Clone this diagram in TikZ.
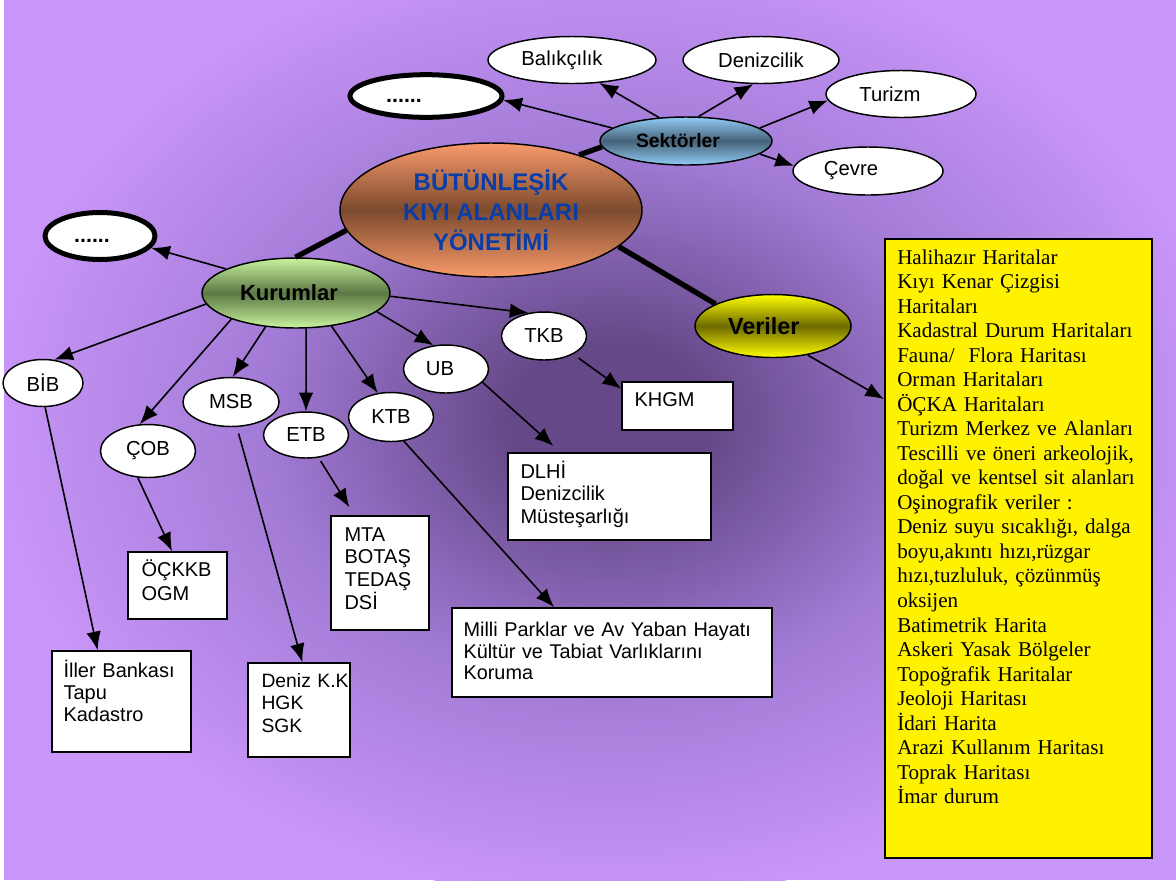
\documentclass[tikz,border=0pt]{standalone}
\usepackage{fontspec}
\setmainfont{Liberation Sans}
\newfontfamily\timesfont{Liberation Serif}
\usetikzlibrary{arrows.meta,shapes.geometric}
\definecolor{bglight}{HTML}{C996F9}
\definecolor{bgmid}{HTML}{A27BD6}
\definecolor{bgdark}{HTML}{654888}
\definecolor{orangelt}{HTML}{F99A6B}
\definecolor{orangedk}{HTML}{7C4A2E}
\definecolor{bluelt}{HTML}{92CCF6}
\definecolor{bluedk}{HTML}{466278}
\definecolor{greenlt}{HTML}{C8F49E}
\definecolor{greendk}{HTML}{5C7844}
\definecolor{yellt}{HTML}{FFFF00}
\definecolor{yeldk}{HTML}{6E6A00}
\definecolor{titleblue}{HTML}{0B3DA8}
\pgfdeclareradialshading{bgrad}{\pgfpoint{0bp}{0bp}}{color(0bp)=(bgdark); color(4bp)=(bgdark); color(14bp)=(bgmid); color(25bp)=(bglight); color(50bp)=(bglight)}
\tikzset{
  ell/.style={ellipse, draw=black, line width=1.1pt, fill=white, inner sep=0pt, font=\fontsize{15.2}{17}\selectfont},
  thickell/.style={ellipse, draw=black, line width=3.75pt, fill=white, inner sep=0pt, font=\bfseries\fontsize{16}{19}\selectfont, text height=10pt, text depth=0pt},
  gradell/.style 2 args={ellipse, draw=black, line width=1.1pt, inner sep=0pt, top color=#1, bottom color=#1, middle color=#2},
  wbox/.style={rectangle, draw=black, line width=1.1pt, fill=white, inner sep=0pt},
  btext/.style={anchor=base west, align=left, inner sep=0pt, text width=250pt, font=\fontsize{15}{17}\selectfont},
  arr/.style={-{Latex[length=14pt,width=11pt]}, line width=1.2pt},
  bond/.style={line width=4pt},
}
\begin{document}
\begin{tikzpicture}[x=0.75pt,y=-0.75pt]
\useasboundingbox (0,0) rectangle (1176,883);
\fill[white] (0,0) rectangle (1176,883);
\begin{scope}
  \clip (4,0) rectangle (1176,880);
  \fill[bglight] (4,0) rectangle (1176,880);
  \shade[shading=bgrad] (610,420) ellipse (465pt and 360pt);
\end{scope}

% central and group ellipses
\node[gradell={orangelt}{orangedk}, minimum width=226.5pt, minimum height=100.5pt, align=center,
      font=\bfseries\fontsize{18}{22.5}\selectfont, text=titleblue] (main) at (491,210)
      {BÜTÜNLEŞİK\\KIYI ALANLARI\\YÖNETİMİ};
\node[gradell={bluelt}{bluedk}, minimum width=129pt, minimum height=36pt,
      font=\bfseries\fontsize{14.5}{17}\selectfont] (sek) at (686,141) {Sektörler\kern12pt};
\node[gradell={greenlt}{greendk}, minimum width=141pt, minimum height=52.5pt,
      font=\bfseries\fontsize{16.5}{19}\selectfont] (kur) at (296,293) {Kurumlar\kern10.5pt};
\node[gradell={yellt}{yeldk}, minimum width=117pt, minimum height=47.25pt,
      font=\bfseries\fontsize{17.5}{20}\selectfont] (ver) at (773,326) {Veriler\kern14pt};

% sector ellipses
\node[ell, minimum width=126pt, minimum height=35.25pt] (bal) at (572,60) {Balıkçılık\kern15pt};
\node[ell, minimum width=117pt, minimum height=35.25pt] (den) at (761,60) {Denizcilik};
\node[ell, minimum width=112.5pt, minimum height=35.25pt] (tur) at (901,94) {Turizm\kern16.5pt};
\node[ell, minimum width=112.5pt, minimum height=36pt] (cev) at (868,171) {Çevre\kern25.5pt};
\node[thickell, minimum width=114pt, minimum height=32pt] (dotsA) at (426,96) {......\kern33pt};
\node[thickell, minimum width=82.5pt, minimum height=35.25pt] (dotsB) at (100,236) {......\kern12pt};

% institution ellipses
\node[ell, minimum width=60pt, minimum height=35.25pt] (bib) at (43,383) {BİB};
\node[ell, minimum width=71.25pt, minimum height=39.75pt] (cob) at (148,451) {ÇOB};
\node[ell, minimum width=72pt, minimum height=36.75pt] (msb) at (231,402) {MSB};
\node[ell, minimum width=63.75pt, minimum height=34.5pt] (etb) at (306,435) {ETB};
\node[ell, minimum width=63.75pt, minimum height=36.75pt] (ktb) at (391,417) {KTB};
\node[ell, minimum width=63.75pt, minimum height=36pt] (ub) at (446,369) {UB\kern9pt};
\node[ell, minimum width=63.75pt, minimum height=36pt] (tkb) at (544,336) {TKB};

% boxes
\node[wbox, minimum width=83.25pt, minimum height=36pt] (khgm) at (677.5,406) {};
\node[btext] at ([shift={(13,25)}]khgm.north west) {KHGM};
\node[wbox, minimum width=152.25pt, minimum height=65.25pt] (dlhi) at (609.5,496.5) {};
\node[btext] at ([shift={(13,26)}]dlhi.north west) {DLHİ\\Denizcilik\\Müsteşarlığı};
\node[wbox, minimum width=73.5pt, minimum height=85.5pt] (mta) at (380,573) {};
\node[btext] at ([shift={(14,26)}]mta.north west) {MTA\\BOTAŞ\\TEDAŞ\\DSİ};
\node[wbox, minimum width=74.25pt, minimum height=50.25pt] (ock) at (177.5,585.5) {};
\node[btext, font=\fontsize{15}{18.5}\selectfont] at ([shift={(14,25)}]ock.north west) {ÖÇKKB\\OGM};
\node[wbox, minimum width=104.25pt, minimum height=75.75pt] (iller) at (121.5,701.5) {};
\node[btext, font=\fontsize{15}{16.5}\selectfont] at ([shift={(12,27)}]iller.north west) {İller Bankası\\Tapu\\Kadastro};
\node[wbox, minimum width=76.5pt, minimum height=70.5pt] (deniz) at (299,710) {};
\node[btext, font=\fontsize{14.5}{17}\selectfont] at ([shift={(14,25)}]deniz.north west) {Deniz K.K\\HGK\\SGK};
\node[wbox, minimum width=240pt, minimum height=66.75pt] (milli) at (612,652.5) {};
\node[btext, font=\fontsize{14.9}{16.3}\selectfont] at ([shift={(12,29)}]milli.north west) {Milli Parklar ve Av Yaban Hayatı\\Kültür ve Tabiat Varlıklarını\\Koruma};
\node[wbox, fill=yellow, line width=1.5pt, minimum width=200.25pt, minimum height=464.25pt] (yel) at (1018.5,548.5) {};
\node[btext, font=\timesfont\fontsize{15.8}{18.4}\selectfont] at ([shift={(13,26)}]yel.north west)
  {Halihazır Haritalar\\Kıyı Kenar Çizgisi\\Haritaları\\Kadastral Durum Haritaları\\Fauna/\ \ Flora Haritası\\Orman Haritaları\\ÖÇKA Haritaları\\Turizm Merkez ve Alanları\\Tescilli ve öneri arkeolojik,\\doğal ve kentsel sit alanları\\Oşinografik veriler :\\Deniz suyu sıcaklığı, dalga\\boyu,akıntı hızı,rüzgar\\hızı,tuzluluk, çözünmüş\\oksijen\\Batimetrik Harita\\Askeri Yasak Bölgeler\\Topoğrafik Haritalar\\Jeoloji Haritası\\İdari Harita\\Arazi Kullanım Haritası\\Toprak Haritası\\İmar durum};

% thick bonds
\draw[bond] (main.32.6) -- (sek.184);
\draw[bond] (main.188) -- (kur.91);
\draw[bond] (main.-16) -- (ver.159);

% sector arrows
\draw[arr] (sek.170) -- (dotsA.-3);
\draw[arr] (sek.139) -- (bal.-40);
\draw[arr] (sek.63) -- (den.252);
\draw[arr] (sek.10) -- (tur.185);
\draw[arr] (sek.-10) -- (cev.176);

% institution arrows
\draw[arr] (kur.161) -- (dotsB.-13);
\draw[arr] (kur.187) -- (bib.64);
\draw[arr] (kur.202) -- (cob.107);
\draw[arr] (kur.228) -- (msb.86);
\draw[arr] (kur.-74) -- (etb.north);
\draw[arr] (kur.-43) -- (ktb.119);
\draw[arr] (kur.-13) -- (ub.118);
\draw[arr] (kur.-2) -- (tkb.124);

% box arrows
\draw[arr, shorten <=5pt] (tkb.-32) -- (khgm.163);
\draw[arr, shorten >=7pt] (ub.-20) -- (dlhi.138);
\draw[arr, shorten <=3pt, shorten >=7pt] (etb.-61) -- (mta.114);
\draw[arr] (cob.-111) -- (ock.99);
\draw[arr] (bib.-85) -- (iller.115);
\draw[arr, shorten <=5pt] (msb.-77) -- (deniz.86);
\draw[arr] (ktb.-62) -- (milli.142);
\draw[arr] (ver.-40) -- (yel.132);
\end{tikzpicture}
\end{document}
